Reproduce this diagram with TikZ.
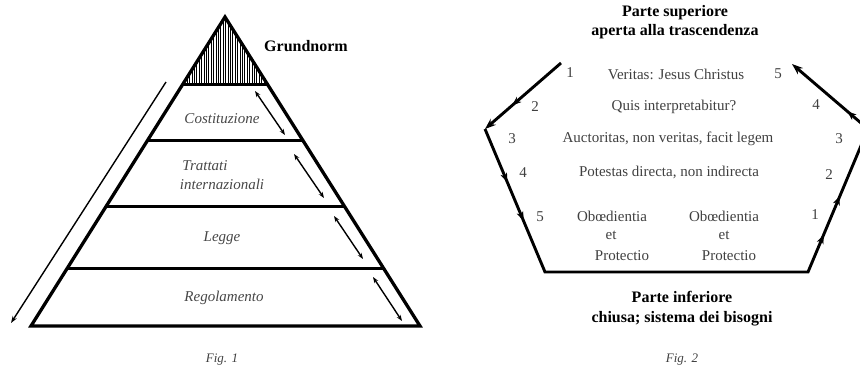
\documentclass[tikz,border=0pt]{standalone}
\usepackage{fontspec}
\setmainfont{Liberation Serif}
\usetikzlibrary{arrows.meta,patterns.meta,decorations.markings}
\begin{document}
\begin{tikzpicture}[x=1pt,y=-1pt,
  outline/.style={line width=3.3pt, line join=miter},
  band/.style={line width=3pt},
  dblarrow/.style={line width=1.4pt, {Stealth[length=6pt,width=4.4pt]}-{Stealth[length=6pt,width=4.4pt]}},
  longarrow/.style={line width=1.4pt, -{Stealth[length=7pt,width=4.8pt]}},
  pent/.style={line width=2.9pt, line join=miter},
  pentarrow/.style={line width=2.9pt, -{Stealth[length=11pt,width=8pt]}},
  midmarks/.style={postaction=decorate, decoration={markings, #1}},
  lvl/.style={font=\fontsize{15}{17}\selectfont\itshape, text=black!72, inner sep=0pt},
  head/.style={font=\fontsize{16}{18}\selectfont\bfseries, inner sep=0pt},
  inner/.style={font=\fontsize{15}{17}\selectfont, text=black!75, inner sep=0pt},
  num/.style={font=\fontsize{15}{17}\selectfont, text=black!75, inner sep=0pt},
  figl/.style={font=\fontsize{13}{15}\selectfont\itshape, text=black!75, inner sep=0pt}
]
\useasboundingbox (0,0) rectangle (860,373);
\clip (0,0) rectangle (860,373);

% ---------- Fig. 1 : pyramid ----------
\coordinate (apex) at (225,17);
\coordinate (bl) at (31,326);
\coordinate (br) at (420,326);
\coordinate (g1) at (182.9,84);  \coordinate (g2) at (267.3,84);
\coordinate (c1) at (147.8,140); \coordinate (c2) at (302.6,140);
\coordinate (t1) at (106.3,206); \coordinate (t2) at (344.3,206);
\coordinate (l1) at (67.4,268);  \coordinate (l2) at (383.4,268);

\fill[pattern={Lines[angle=90,distance=2.4pt,line width=1pt]}] (apex) -- (g1) -- (g2) -- cycle;
\draw[band] (g1) -- (g2);
\draw[band] (c1) -- (c2);
\draw[band] (t1) -- (t2);
\draw[band] (l1) -- (l2);
\draw[outline] (bl) -- (apex) -- (br) -- cycle;

\coordinate (la1) at (166,82); \coordinate (la2) at (11,323);
\draw[longarrow] (la1) -- (la2);

\coordinate (d1a) at (255,91);  \coordinate (d1b) at (285,135);
\coordinate (d2a) at (294,154); \coordinate (d2b) at (324,198);
\coordinate (d3a) at (334,216); \coordinate (d3b) at (363,259);
\coordinate (d4a) at (373,277); \coordinate (d4b) at (402,321);
\draw[dblarrow] (d1a) -- (d1b);
\draw[dblarrow] (d2a) -- (d2b);
\draw[dblarrow] (d3a) -- (d3b);
\draw[dblarrow] (d4a) -- (d4b);

\node[head] (grund) at (306,46) {Grundnorm};
\node[lvl] (cost) at (222,119) {Costituzione};
\node[lvl] (tratt) at (205,166) {Trattati};
\node[lvl] (inter) at (222,184) {internazionali};
\node[lvl] (legge) at (222,238) {Legge};
\node[lvl] (regol) at (224,298) {Regolamento};
\node[figl] (fig1) at (222,360) {Fig. 1};

% ---------- Fig. 2 : pentagon ----------
\coordinate (A) at (561,63);
\coordinate (B) at (485,129);
\coordinate (C) at (545,272);
\coordinate (D) at (808,272);
\coordinate (E) at (868,129);
\coordinate (F) at (792,64);

\draw[pent] (B) -- (C) -- (D) -- (E);
\draw[pentarrow] (A) -- (B);
\draw[pentarrow] (E) -- (F);
\path[midmarks={mark=at position 0.64 with {\arrow{Stealth[length=9pt,width=7pt]}}}] (A) -- (B);
\path[midmarks={mark=at position 0.37 with {\arrow{Stealth[length=9pt,width=7pt]}}, mark=at position 0.64 with {\arrow{Stealth[length=9pt,width=7pt]}}}] (B) -- (C);
\path[midmarks={mark=at position 0.26 with {\arrow{Stealth[length=9pt,width=7pt]}}, mark=at position 0.53 with {\arrow{Stealth[length=9pt,width=7pt]}}}] (D) -- (E);
\path[midmarks={mark=at position 0.27 with {\arrow{Stealth[length=9pt,width=7pt]}}}] (E) -- (F);

\node[head] (psup) at (675,13) {Parte superiore};
\node[head] (aper) at (675,32) {aperta alla trascendenza};
\node[head] (pinf) at (682,297) {Parte inferiore};
\node[head] (chiu) at (682,319) {chiusa; sistema dei bisogni};
\node[figl] (fig2) at (682,360) {Fig. 2};

\node[inner] (ver) at (676,74) {Veritas: Jesus Christus};
\node[inner] (quis) at (674,107) {Quis interpretabitur?};
\node[inner] (auct) at (668,139) {Auctoritas, non veritas, facit legem};
\node[inner] (pot) at (669,172) {Potestas directa, non indirecta};
\node[inner] (ob1) at (612,216) {Obœdientia};
\node[inner] (et1) at (611,235) {et};
\node[inner] (pr1) at (622,256) {Protectio};
\node[inner] (ob2) at (724,216) {Obœdientia};
\node[inner] (et2) at (724,235) {et};
\node[inner] (pr2) at (729,256) {Protectio};

\node[num] (nl1) at (570,73) {1};
\node[num] (nl2) at (535,107) {2};
\node[num] (nl3) at (512,139) {3};
\node[num] (nl4) at (523,173) {4};
\node[num] (nl5) at (540,217) {5};
\node[num] (nr5) at (778,74) {5};
\node[num] (nr4) at (816,105) {4};
\node[num] (nr3) at (839,139) {3};
\node[num] (nr2) at (829,175) {2};
\node[num] (nr1) at (815,215) {1};
\end{tikzpicture}
\end{document}
